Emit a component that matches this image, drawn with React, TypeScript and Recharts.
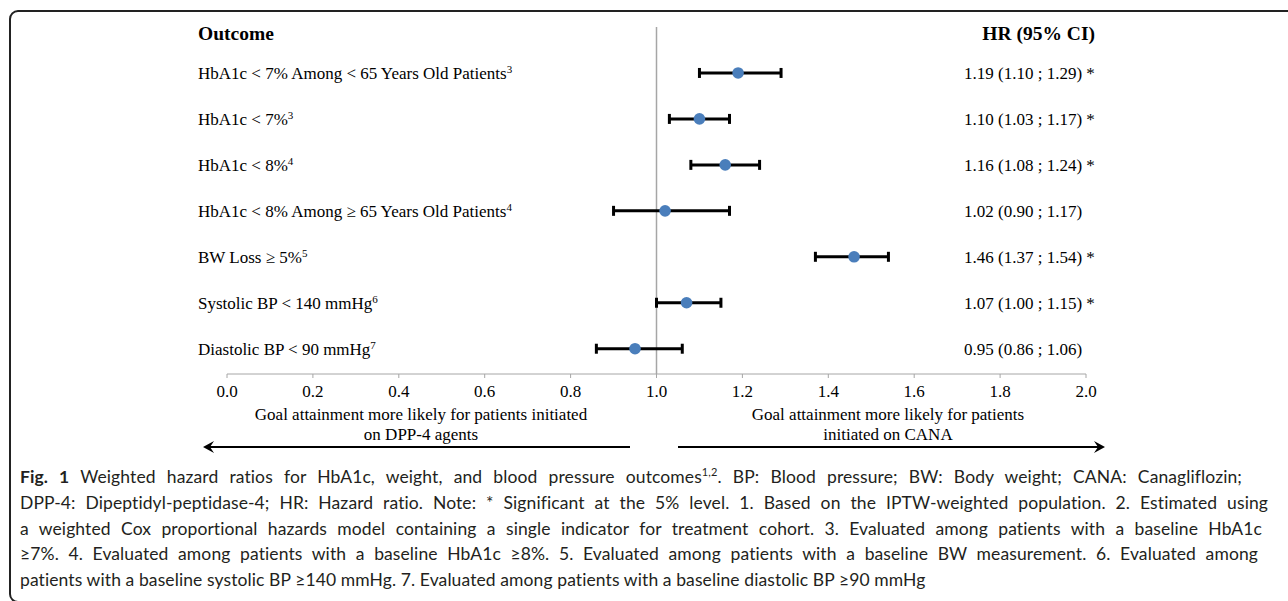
import { ScatterChart, Scatter, XAxis, YAxis, ErrorBar, ReferenceLine } from "recharts";

const outcomes = [
  "HbA1c < 7% Among < 65 Years Old Patients",
  "HbA1c < 7%",
  "HbA1c < 8%",
  "HbA1c < 8% Among \u2265 65 Years Old Patients",
  "BW Loss \u2265 5%",
  "Systolic BP < 140 mmHg",
  "Diastolic BP < 90 mmHg",
];
const footnotes = ["3", "3", "4", "4", "5", "6", "7"];
const hr = [1.19, 1.1, 1.16, 1.02, 1.46, 1.07, 0.95];
const ciLow = [1.1, 1.03, 1.08, 0.9, 1.37, 1.0, 0.86];
const ciHigh = [1.29, 1.17, 1.24, 1.17, 1.54, 1.15, 1.06];
const significant = [true, true, true, false, true, true, false];
const xTicks = [0, 0.2, 0.4, 0.6, 0.8, 1.0, 1.2, 1.4, 1.6, 1.8, 2.0];

const rows = outcomes.map((name, i) => ({
  row: i,
  name,
  hr: hr[i],
  err: [hr[i] - ciLow[i], ciHigh[i] - hr[i]],
}));

const serif = "'Liberation Serif', 'Times New Roman', serif";
const sans = "Lato, 'Open Sans', sans-serif";
const dotColor = "#4a7ebb";
const axisGray = "#a6a6a6";

function hrLabel(i: number) {
  const s = `${hr[i].toFixed(2)} (${ciLow[i].toFixed(2)} ; ${ciHigh[i].toFixed(2)})`;
  return significant[i] ? s + " *" : s;
}

function RowTick(props: any) {
  const { y, payload } = props;
  const i = payload.value as number;
  return (
    <g>
      <text x={198} y={y} dy="0.35em" fontFamily={serif} fontSize={17} fill="#000">
        {outcomes[i]}
        <tspan dy={-6} fontSize={11}>
          {footnotes[i]}
        </tspan>
      </text>
      <text x={964} y={y} dy="0.35em" fontFamily={serif} fontSize={17} fill="#000">
        {hrLabel(i)}
      </text>
    </g>
  );
}

const Dot = (props: any) => <circle cx={props.cx} cy={props.cy} r={5.8} fill={dotColor} />;
const NoShape = () => <g />;

export default function App() {
  return (
    <div style={{ position: "absolute", left: 0, top: 0, width: 1288, height: 601, overflow: "hidden", background: "#fff" }}>
      <div
        style={{
          position: "absolute",
          left: 9,
          top: 10,
          width: 1300,
          height: 589,
          border: "2px solid #222",
          borderRadius: 9,
        }}
      />
      <div style={{ position: "absolute", left: 198, top: 23, fontFamily: serif, fontSize: 19.5, fontWeight: "bold" }}>
        Outcome
      </div>
      <div style={{ position: "absolute", right: 1288 - 1095, top: 23, fontFamily: serif, fontSize: 19.5, fontWeight: "bold" }}>
        HR (95% CI)
      </div>
      <div style={{ position: "absolute", left: 0, top: 0 }}>
        <ScatterChart width={1288} height={601} margin={{ top: 27, right: 202, bottom: 197, left: 197 }}>
          <XAxis
            type="number"
            dataKey="hr"
            domain={[0, 2]}
            ticks={xTicks}
            tickFormatter={(v: number) => v.toFixed(1)}
            stroke={axisGray}
            tickSize={4}
            tickMargin={7}
            tick={{ fill: "#000", fontFamily: serif, fontSize: 17 }}
            height={30}
          />
          <YAxis
            type="number"
            dataKey="row"
            domain={[-1, 6.55]}
            reversed
            ticks={rows.map((r) => r.row)}
            tick={<RowTick />}
            axisLine={false}
            tickLine={false}
            width={30}
          />
          <ReferenceLine x={1} stroke={axisGray} strokeWidth={1.5} />
          <Scatter data={rows} shape={NoShape} isAnimationActive={false}>
            <ErrorBar dataKey="err" direction="x" width={5} stroke="#000" strokeWidth={3} />
          </Scatter>
          <Scatter data={rows} shape={Dot} isAnimationActive={false} />
        </ScatterChart>
      </div>
      <div style={{ position: "absolute", left: 221, width: 400, top: 405, fontFamily: serif, fontSize: 17, lineHeight: "20px", textAlign: "center" }}>
        Goal attainment more likely for patients initiated
        <br />
        on DPP-4 agents
      </div>
      <div style={{ position: "absolute", left: 688, width: 400, top: 405, fontFamily: serif, fontSize: 17, lineHeight: "20px", textAlign: "center" }}>
        Goal attainment more likely for patients
        <br />
        initiated on CANA
      </div>
      <svg style={{ position: "absolute", left: 0, top: 0 }} width={1288} height={601}>
        <line x1={206} y1={447} x2={630} y2={447} stroke="#000" strokeWidth={2} />
        <path d="M203,447 L214,441 L210,447 L214,453 Z" fill="#000" />
        <line x1={678} y1={447} x2={1102} y2={447} stroke="#000" strokeWidth={2} />
        <path d="M1105,447 L1094,441 L1098,447 L1094,453 Z" fill="#000" />
      </svg>
      <div
        style={{
          position: "absolute",
          left: 20,
          top: 464,
          width: 1248,
          fontFamily: sans,
          fontSize: 17.5,
          letterSpacing: 0.1,
          lineHeight: "25.8px",
          color: "#231f20",
        }}
      >
        <div style={{ textAlign: "justify", textAlignLast: "justify", width: 1222 }}>
          <b>Fig. 1</b> Weighted hazard ratios for HbA1c, weight, and blood pressure outcomes
          <sup style={{ fontSize: 11, lineHeight: 0 }}>1,2</sup>. BP: Blood pressure; BW: Body weight; CANA: Canagliflozin;
        </div>
        <div style={{ textAlign: "justify", textAlignLast: "justify" }}>
          DPP-4: Dipeptidyl-peptidase-4; HR: Hazard ratio. Note: * Significant at the 5% level. 1. Based on the IPTW-weighted population. 2. Estimated using
        </div>
        <div style={{ textAlign: "justify", textAlignLast: "justify", width: 1242 }}>
          a weighted Cox proportional hazards model containing a single indicator for treatment cohort. 3. Evaluated among patients with a baseline HbA1c
        </div>
        <div style={{ textAlign: "justify", textAlignLast: "justify", width: 1238 }}>
          ≥7%. 4. Evaluated among patients with a baseline HbA1c ≥8%. 5. Evaluated among patients with a baseline BW measurement. 6. Evaluated among
        </div>
        <div>patients with a baseline systolic BP ≥140 mmHg. 7. Evaluated among patients with a baseline diastolic BP ≥90 mmHg</div>
      </div>
    </div>
  );
}
